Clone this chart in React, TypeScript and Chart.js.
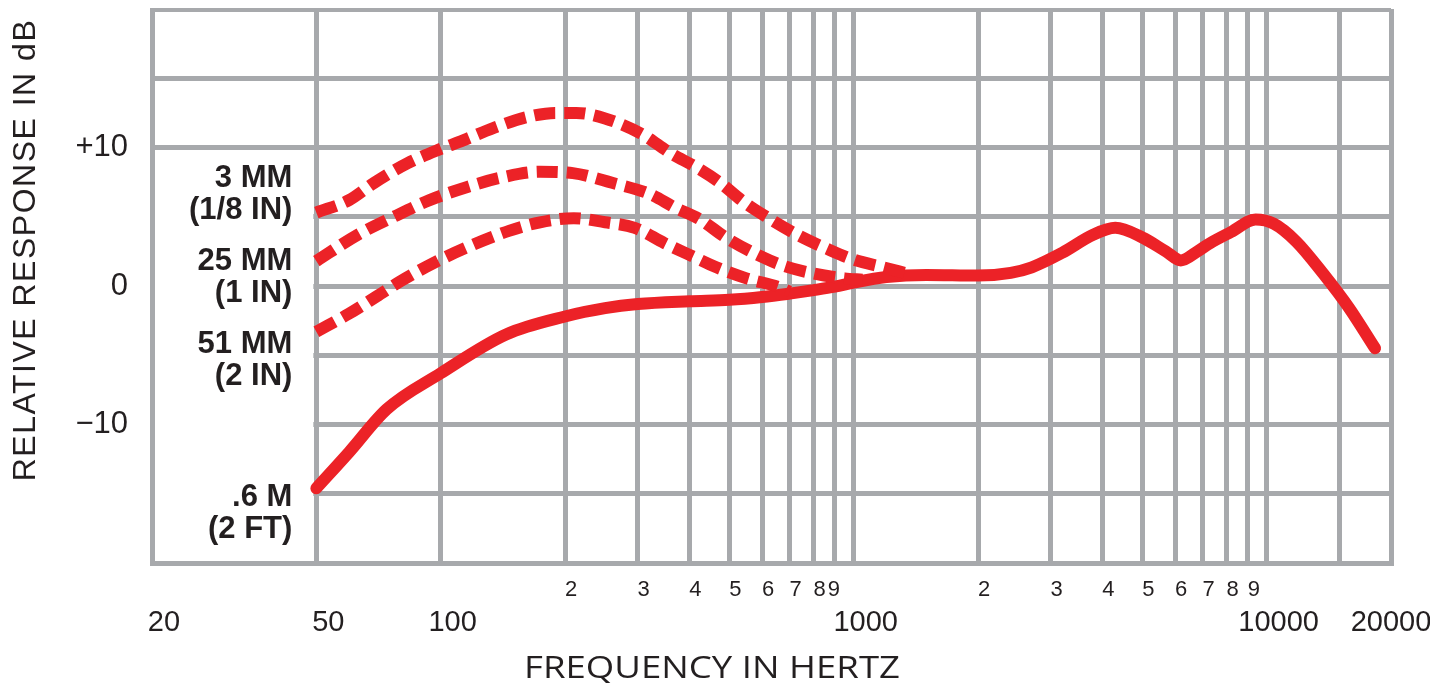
import { useEffect, useRef } from 'react';
import { Chart, registerables } from 'chart.js';

Chart.register(...registerables);

const RED = '#ec2227';
const GRID = '#a7a9ac';
const INK = '#231f20';

// Frequency response curves (Hz, dB)
const SOLID_FREQ = [50, 60, 74, 100, 144, 200, 250, 300, 400, 500, 600, 700, 800, 900, 1000, 1200, 1500, 2000, 2400, 2700, 3200, 3800, 4300, 5000, 5700, 6200, 6800, 7300, 8200, 9400, 10400, 11800, 13700, 15800, 18300];
const SOLID_DB = [-14.6, -12.0, -8.9, -6.3, -3.5, -2.2, -1.6, -1.3, -1.1, -1.0, -0.8, -0.55, -0.3, -0.05, 0.25, 0.65, 0.8, 0.75, 0.95, 1.35, 2.4, 3.7, 4.2, 3.5, 2.5, 1.85, 2.5, 3.1, 3.9, 4.8, 4.5, 3.2, 0.9, -1.55, -4.5];

const MM3_FREQ = [50, 60, 69, 83, 100, 113, 134, 162, 190, 213, 250, 306, 360, 417, 475, 540, 630, 730, 860, 1000, 1180, 1350];
const MM3_DB = [5.3, 6.2, 7.45, 8.85, 9.9, 10.5, 11.4, 12.2, 12.5, 12.5, 12.1, 11.0, 9.6, 8.55, 7.45, 6.1, 4.8, 3.7, 2.7, 1.9, 1.35, 0.9];

const MM25_FREQ = [50, 63, 77, 94, 116, 141, 174, 209, 260, 320, 370, 425, 490, 600, 670, 800, 950, 1050];
const MM25_DB = [1.8, 3.7, 5.0, 6.2, 7.15, 7.85, 8.25, 8.15, 7.45, 6.65, 5.65, 4.8, 3.5, 2.1, 1.5, 0.9, 0.55, 0.45];

const MM51_FREQ = [50, 60, 70, 80, 96, 116, 147, 174, 210, 250, 295, 348, 410, 465, 550, 655, 700];
const MM51_DB = [-3.3, -2.0, -0.75, 0.35, 1.65, 2.8, 4.0, 4.6, 4.9, 4.6, 4.2, 3.1, 2.1, 1.35, 0.55, -0.05, -0.4];

// Axis definitions
const X_GRID = [20, 50, 100, 200, 300, 400, 500, 600, 700, 800, 900, 1000, 2000, 3000, 4000, 5000, 6000, 7000, 8000, 9000, 10000, 15000, 20000];
const X_MAJOR_VALUES = [20, 50, 100, 1000, 10000, 20000];
const X_MAJOR_LABELS = ['20', '50', '100', '1000', '10000', '20000'];
const X_MINOR_VALUES = [200, 300, 400, 500, 600, 700, 800, 900, 2000, 3000, 4000, 5000, 6000, 7000, 8000, 9000];
const X_MINOR_LABELS = ['2', '3', '4', '5', '6', '7', '8', '9', '2', '3', '4', '5', '6', '7', '8', '9'];
const Y_LABEL_VALUES = [10, 0, -10];
const Y_LABELS = ['+10', '0', '\u221210'];

const SERIES_LABELS = [
  ['3 MM', '(1/8 IN)'],
  ['25 MM', '(1 IN)'],
  ['51 MM', '(2 IN)'],
  ['.6 M', '(2 FT)'],
];
const SERIES_LABEL_DB = [7.8, 1.75, -4.25, -15.3];

const X_TITLE = 'FREQUENCY IN HERTZ';
const Y_TITLE = 'RELATIVE RESPONSE IN dB';

function pts(f: number[], d: number[]) {
  return f.map((v, i) => ({ x: v, y: d[i] }));
}

export default function App() {
  const ref = useRef<HTMLCanvasElement>(null);

  useEffect(() => {
    const canvas = ref.current!;
    const textPlugin = {
      id: 'textPlugin',
      beforeDatasetsDraw(chart: any) {
        const { ctx, chartArea: a, scales } = chart;
        const xs = scales.x;
        const ys = scales.y;
        ctx.save();
        ctx.fillStyle = '#ffffff';
        const x0 = a.left + 3;
        const x1 = xs.getPixelForValue(50) - 3;
        const y0 = ys.getPixelForValue(10) + 3;
        const y1 = a.bottom - 3;
        ctx.fillRect(x0, y0, x1 - x0, y1 - y0);
        ctx.fillStyle = INK;
        ctx.font = 'bold 31px "Liberation Sans", Arial, sans-serif';
        ctx.textAlign = 'right';
        ctx.textBaseline = 'middle';
        const rx = xs.getPixelForValue(50) - 24;
        SERIES_LABELS.forEach((lines, i) => {
          const cy = ys.getPixelForValue(SERIES_LABEL_DB[i]);
          lines.forEach((t, j) => ctx.fillText(t, rx, cy + j * 32));
        });
        ctx.restore();
      },
      afterDraw(chart: any) {
        const { ctx, chartArea: a, scales } = chart;
        const xs = scales.x;
        const ys = scales.y;
        ctx.save();
        ctx.fillStyle = INK;
        ctx.textBaseline = 'middle';
        // y tick labels
        ctx.font = '31px "Liberation Sans", Arial, sans-serif';
        ctx.textAlign = 'right';
        Y_LABEL_VALUES.forEach((v, i) => {
          ctx.fillText(Y_LABELS[i], a.left - 24, ys.getPixelForValue(v));
        });
        // x major labels
        ctx.textAlign = 'center';
        ctx.font = '29px "Liberation Sans", Arial, sans-serif';
        X_MAJOR_VALUES.forEach((v, i) => {
          const off = i === X_MAJOR_VALUES.length - 1 ? 0 : 12;
          ctx.fillText(X_MAJOR_LABELS[i], xs.getPixelForValue(v) + off, a.bottom + 60);
        });
        // x minor labels
        ctx.font = '22px "Liberation Sans", Arial, sans-serif';
        X_MINOR_VALUES.forEach((v, i) => {
          const off = v === 900 ? -1 : 6;
          ctx.fillText(X_MINOR_LABELS[i], xs.getPixelForValue(v) + off, a.bottom + 27);
        });
        // x title (wide letterforms)
        ctx.font = '31px "Open Sans", sans-serif';
        const w = ctx.measureText(X_TITLE).width;
        const sx = 376 / w;
        ctx.save();
        ctx.translate(a.left + 560, a.bottom + 106);
        ctx.scale(sx, 1);
        ctx.fillText(X_TITLE, 0, 0);
        ctx.restore();
        // y title
        ctx.save();
        ctx.font = '32px "Liberation Sans", Arial, sans-serif';
        (ctx as any).letterSpacing = '1.5px';
        ctx.translate(a.left - 126, 242);
        ctx.rotate(-Math.PI / 2);
        ctx.fillText(Y_TITLE, 0, 0);
        ctx.restore();
        ctx.restore();
      },
    };

    const dashed = {
      borderColor: RED,
      borderWidth: 12,
      borderDash: [21, 9],
      borderCapStyle: 'butt' as const,
      pointRadius: 0,
      cubicInterpolationMode: 'monotone' as const,
      fill: false,
    };

    const chart = new Chart(canvas, {
      type: 'line',
      data: {
        datasets: [
          { label: '3 MM (1/8 IN)', data: pts(MM3_FREQ, MM3_DB), ...dashed },
          { label: '25 MM (1 IN)', data: pts(MM25_FREQ, MM25_DB), ...dashed },
          { label: '51 MM (2 IN)', data: pts(MM51_FREQ, MM51_DB), ...dashed },
          {
            label: '.6 M (2 FT)',
            data: pts(SOLID_FREQ, SOLID_DB),
            borderColor: RED,
            borderWidth: 12,
            borderCapStyle: 'round',
            borderJoinStyle: 'round',
            pointRadius: 0,
            cubicInterpolationMode: 'monotone',
            fill: false,
          },
        ],
      },
      options: {
        responsive: false,
        animation: false,
        layout: { padding: { left: 144, right: 39, top: 1, bottom: 122 } },
        plugins: { legend: { display: false }, tooltip: { enabled: false } },
        events: [],
        scales: {
          x: {
            type: 'logarithmic',
            min: 20,
            max: 20000,
            afterBuildTicks: (scale: any) => {
              scale.ticks = X_GRID.map((v) => ({ value: v }));
            },
            ticks: { display: false },
            grid: { color: GRID, lineWidth: 5, drawTicks: false },
            border: { display: true, color: GRID, width: 5 },
          },
          y: {
            type: 'linear',
            min: -20,
            max: 20,
            ticks: { display: false, stepSize: 5 },
            grid: { color: GRID, lineWidth: 5, drawTicks: false },
            border: { display: true, color: GRID, width: 5 },
          },
        },
      },
      plugins: [textPlugin],
    });
    return () => chart.destroy();
  }, []);

  return (
    <canvas
      ref={ref}
      width={1422}
      height={677}
      style={{ display: 'block', width: '1422px', height: '677px' }}
    />
  );
}
